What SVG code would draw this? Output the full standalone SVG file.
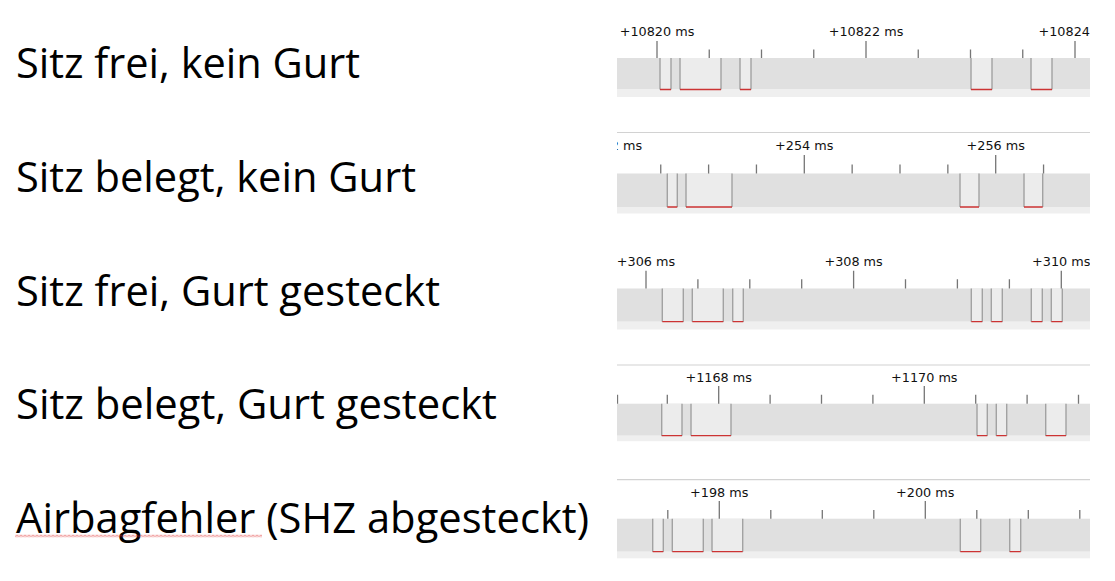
<svg xmlns="http://www.w3.org/2000/svg" width="1115" height="581" viewBox="0 0 1115 581">
<style>
.row{font-family:"Open Sans","Noto Sans","DejaVu Sans",sans-serif;font-size:42px;fill:#000}
.lbl{font-family:"DejaVu Sans","Liberation Sans",sans-serif;font-size:12.8px;fill:#111;text-anchor:middle}
.band{fill:#e0e0e0}
.strip{fill:#efefef}
.pul{fill:#ececec}
.edge{stroke:#a2a2a2;stroke-width:1.4;fill:none}
.red{stroke:#cc3333;stroke-width:1.3;fill:none}
.tk{stroke:#767676;stroke-width:1.3;fill:none}
.top{stroke:#d2d2d2;stroke-width:1.2;fill:none}
</style>
<defs>
<clipPath id="pc"><rect x="617" y="0" width="473" height="581"/></clipPath>
<pattern id="sq" width="4" height="3" patternUnits="userSpaceOnUse" x="15" y="534.5"><path d="M0,2.5 L2,0.5 L4,2.5" fill="none" stroke="#e03030" stroke-width="0.9"/></pattern>
</defs>
<rect width="1115" height="581" fill="#fff"/>

<g id="label-1"><text class="row" x="16" y="78.3" textLength="344" lengthAdjust="spacingAndGlyphs">Sitz frei, kein Gurt</text></g>
<g id="label-2"><text class="row" x="16" y="192" textLength="400" lengthAdjust="spacingAndGlyphs">Sitz belegt, kein Gurt</text></g>
<g id="label-3"><text class="row" x="16" y="305.5" textLength="424" lengthAdjust="spacingAndGlyphs">Sitz frei, Gurt gesteckt</text></g>
<g id="label-4"><text class="row" x="16" y="419" textLength="481" lengthAdjust="spacingAndGlyphs">Sitz belegt, Gurt gesteckt</text></g>
<g id="label-5"><text class="row" x="16" y="532.7" textLength="573" lengthAdjust="spacingAndGlyphs">Airbagfehler (SHZ abgesteckt)</text>
<rect x="15" y="534.5" width="247" height="3" fill="url(#sq)"/></g>

<g id="panel-1" clip-path="url(#pc)">
<rect class="band" x="617" y="58" width="473" height="31.5"/>
<rect class="strip" x="617" y="89.5" width="473" height="7.5"/>
<rect class="pul" x="660" y="58" width="11" height="31.5"/><rect class="pul" x="680" y="58" width="41" height="31.5"/><rect class="pul" x="740" y="58" width="11" height="31.5"/><rect class="pul" x="971" y="58" width="21" height="31.5"/><rect class="pul" x="1031" y="58" width="21" height="31.5"/>
<path class="edge" d="M660 58V89.5M671 58V89.5M680 58V89.5M721 58V89.5M740 58V89.5M751 58V89.5M971 58V89.5M992 58V89.5M1031 58V89.5M1052 58V89.5"/>
<path class="red" d="M660 89.5H671M680 89.5H721M740 89.5H751M971 89.5H992M1031 89.5H1052"/>
<path class="tk" d="M657 41V58M866 41V58M1075 41V58M709.25 49.5V58M761.5 49.5V58M813.75 49.5V58M918.25 49.5V58M970.5 49.5V58M1022.75 49.5V58"/>
<text class="lbl" x="657" y="36">+10820 ms</text><text class="lbl" x="866" y="36">+10822 ms</text><text class="lbl" x="1038.5" y="36" style="text-anchor:start">+10824</text>
</g>

<g id="panel-2" clip-path="url(#pc)">
<path class="top" d="M617 132.5H1090"/>
<rect class="band" x="617" y="173.5" width="473" height="33.5"/>
<rect class="strip" x="617" y="207" width="473" height="6.5"/>
<rect class="pul" x="667.3" y="173.5" width="10" height="33.5"/><rect class="pul" x="686" y="173.5" width="46" height="33.5"/><rect class="pul" x="960" y="173.5" width="19" height="33.5"/><rect class="pul" x="1024" y="173.5" width="18.7" height="33.5"/>
<path class="edge" d="M667.3 173.5V207M677.3 173.5V207M686 173.5V207M732 173.5V207M960 173.5V207M979 173.5V207M1024 173.5V207M1042.7 173.5V207"/>
<path class="red" d="M667.3 207H677.3M686 207H732M960 207H979M1024 207H1042.7"/>
<path class="tk" d="M804.3 155V173.5M995.7 155V173.5M660.75 164.5V173.5M708.6 164.5V173.5M756.45 164.5V173.5M852.15 164.5V173.5M900 164.5V173.5M947.85 164.5V173.5M1043.55 164.5V173.5"/>
<text class="lbl" x="642.1" y="150" style="text-anchor:end">2 ms</text><text class="lbl" x="804.3" y="150">+254 ms</text><text class="lbl" x="995.7" y="150">+256 ms</text>
</g>

<g id="panel-3" clip-path="url(#pc)">
<rect class="band" x="617" y="288.5" width="473" height="33.2"/>
<rect class="strip" x="617" y="321.7" width="473" height="7.8"/>
<rect class="pul" x="662.3" y="288.5" width="21" height="33.2"/><rect class="pul" x="692.3" y="288.5" width="31" height="33.2"/><rect class="pul" x="732.7" y="288.5" width="10.6" height="33.2"/><rect class="pul" x="971.3" y="288.5" width="11" height="33.2"/><rect class="pul" x="991.3" y="288.5" width="11" height="33.2"/><rect class="pul" x="1031.3" y="288.5" width="11" height="33.2"/><rect class="pul" x="1051.3" y="288.5" width="11" height="33.2"/>
<path class="edge" d="M662.3 288.5V321.7M683.3 288.5V321.7M692.3 288.5V321.7M723.3 288.5V321.7M732.7 288.5V321.7M743.3 288.5V321.7M971.3 288.5V321.7M982.3 288.5V321.7M991.3 288.5V321.7M1002.3 288.5V321.7M1031.3 288.5V321.7M1042.3 288.5V321.7M1051.3 288.5V321.7M1062.3 288.5V321.7"/>
<path class="red" d="M662.3 321.7H683.3M692.3 321.7H723.3M732.7 321.7H743.3M971.3 321.7H982.3M991.3 321.7H1002.3M1031.3 321.7H1042.3M1051.3 321.7H1062.3"/>
<path class="tk" d="M646 270.7V288.5M853.6 270.7V288.5M1061.3 270.7V288.5M697.9 279.3V288.5M749.8 279.3V288.5M801.7 279.3V288.5M905.5 279.3V288.5M957.4 279.3V288.5M1009.4 279.3V288.5"/>
<text class="lbl" x="646" y="266">+306 ms</text><text class="lbl" x="853.6" y="266">+308 ms</text><text class="lbl" x="1061.3" y="266">+310 ms</text>
</g>

<g id="panel-4" clip-path="url(#pc)">
<path class="top" d="M617 365H1090"/>
<rect class="band" x="617" y="403.7" width="473" height="32"/>
<rect class="strip" x="617" y="435.7" width="473" height="5.5"/>
<rect class="pul" x="661.7" y="403.7" width="20.3" height="32"/><rect class="pul" x="691" y="403.7" width="40" height="32"/><rect class="pul" x="977" y="403.7" width="10.3" height="32"/><rect class="pul" x="996.3" y="403.7" width="10.4" height="32"/><rect class="pul" x="1045.7" y="403.7" width="20.3" height="32"/>
<path class="edge" d="M661.7 403.7V435.7M682 403.7V435.7M691 403.7V435.7M731 403.7V435.7M977 403.7V435.7M987.3 403.7V435.7M996.3 403.7V435.7M1006.7 403.7V435.7M1045.7 403.7V435.7M1066 403.7V435.7"/>
<path class="red" d="M661.7 435.7H682M691 435.7H731M977 435.7H987.3M996.3 435.7H1006.7M1045.7 435.7H1066"/>
<path class="tk" d="M718.7 386V403.7M924.3 386V403.7M617.5 394.7V403.7M667.3 394.7V403.7M770.1 394.7V403.7M821.5 394.7V403.7M872.9 394.7V403.7M975.7 394.7V403.7M1027.1 394.7V403.7M1078.5 394.7V403.7"/>
<text class="lbl" x="718.7" y="381.7">+1168 ms</text><text class="lbl" x="924.3" y="381.7">+1170 ms</text>
</g>

<g id="panel-5" clip-path="url(#pc)">
<path class="top" d="M617 479.7H1090"/>
<rect class="band" x="617" y="518.7" width="473" height="33"/>
<rect class="strip" x="617" y="551.7" width="473" height="6.6"/>
<rect class="pul" x="652.7" y="518.7" width="10.6" height="33"/><rect class="pul" x="672.3" y="518.7" width="31" height="33"/><rect class="pul" x="712" y="518.7" width="30.7" height="33"/><rect class="pul" x="960.3" y="518.7" width="20.4" height="33"/><rect class="pul" x="1009.7" y="518.7" width="11" height="33"/>
<path class="edge" d="M652.7 518.7V551.7M663.3 518.7V551.7M672.3 518.7V551.7M703.3 518.7V551.7M712 518.7V551.7M742.7 518.7V551.7M960.3 518.7V551.7M980.7 518.7V551.7M1009.7 518.7V551.7M1020.7 518.7V551.7"/>
<path class="red" d="M652.7 551.7H663.3M672.3 551.7H703.3M712 551.7H742.7M960.3 551.7H980.7M1009.7 551.7H1020.7"/>
<path class="tk" d="M719.3 501V518.7M925.3 501V518.7M667.8 510V518.7M770.8 510V518.7M822.3 510V518.7M873.8 510V518.7M976.8 510V518.7M1028.3 510V518.7M1079.8 510V518.7"/>
<text class="lbl" x="719.3" y="496.7">+198 ms</text><text class="lbl" x="925.3" y="496.7">+200 ms</text>
</g>
</svg>
